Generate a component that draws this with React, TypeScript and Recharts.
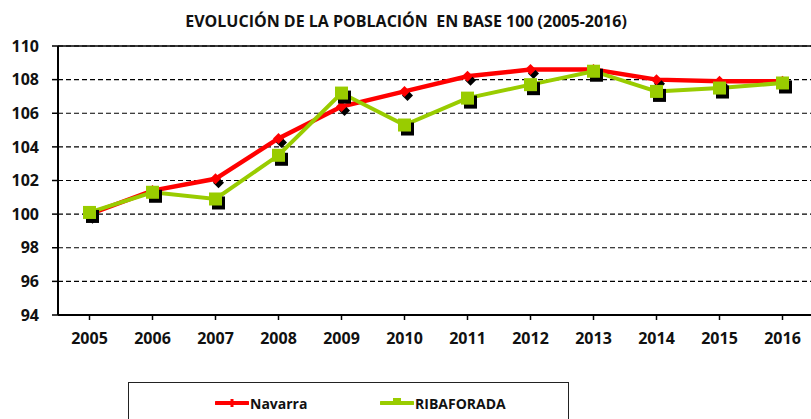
import { LineChart, Line, XAxis, YAxis, CartesianGrid, ReferenceLine, Legend } from 'recharts'

const years = ['2005', '2006', '2007', '2008', '2009', '2010', '2011', '2012', '2013', '2014', '2015', '2016']
const navarra = [100.0, 101.4, 102.1, 104.5, 106.4, 107.3, 108.2, 108.6, 108.6, 108.0, 107.9, 107.9]
const ribaforada = [100.1, 101.3, 100.9, 103.5, 107.2, 105.3, 106.9, 107.7, 108.5, 107.3, 107.5, 107.8]
const yTicks = [94, 96, 98, 100, 102, 104, 106, 108, 110]

const data = years.map((y, i) => ({ year: y, Navarra: navarra[i], RIBAFORADA: ribaforada[i] }))

const RED = '#ff0000'
const GREEN = '#99cc00'
const FONT = '"Open Sans", sans-serif'

// marcador rombo con sombra negra
const Diamond = (props: any) => {
  const { cx, cy } = props
  if (cx == null || cy == null) return null
  const d = (x: number, y: number, r: number) => `M${x},${y - r} L${x + r},${y} L${x},${y + r} L${x - r},${y} Z`
  return (
    <g>
      <path d={d(cx + 3, cy + 4, 5.5)} fill='#000' />
      <path d={d(cx, cy, 5.5)} fill={RED} />
    </g>
  )
}

// marcador cuadrado con sombra negra
const Square = (props: any) => {
  const { cx, cy } = props
  if (cx == null || cy == null) return null
  const s = 13
  return (
    <g>
      <rect x={cx - s / 2 + 3} y={cy - s / 2 + 4} width={s} height={s} fill='#000' />
      <rect x={cx - s / 2} y={cy - s / 2} width={s} height={s} fill={GREEN} />
    </g>
  )
}

const LegendBox = (props: any) => {
  const items = props.payload || []
  const pos = [86, 251]
  return (
    <div style={{ position: 'relative', width: 441, height: 60, border: '1.5px solid #222', boxSizing: 'border-box', background: '#fff' }}>
      {items.map((it: any, i: number) => (
        <div key={it.value} style={{ position: 'absolute', left: pos[i], top: 8, display: 'flex', alignItems: 'center', height: 24 }}>
          <svg width={34} height={14}>
            <line x1={1} y1={7} x2={33} y2={7} stroke={it.color} strokeWidth={4} strokeLinecap='round' />
            {i === 0
              ? <rect x={15.5} y={3} width={3} height={8} fill={it.color} />
              : <rect x={13} y={2} width={8} height={6} fill={it.color} />}
          </svg>
          <span style={{ fontFamily: FONT, fontWeight: 700, fontSize: 14, color: '#111', marginLeft: 1 }}>{it.value}</span>
        </div>
      ))}
    </div>
  )
}

const App = () => (
  <div style={{ position: 'absolute', left: 0, top: 0, width: 811, height: 419, overflow: 'hidden', background: '#fff' }}>
    <div style={{ position: 'absolute', left: 0, top: 10, width: 812, textAlign: 'center', fontFamily: FONT, fontWeight: 700, fontSize: 16, color: '#111' }}>
      EVOLUCIÓN DE LA POBLACIÓN&nbsp; EN BASE 100 (2005-2016)
    </div>
    <LineChart width={814} height={419} data={data} margin={{ top: 46, right: 0, left: 0, bottom: 64 }}>
      <CartesianGrid vertical={false} stroke='#000' strokeDasharray='5 3' strokeWidth={1.2} />
      <ReferenceLine y={110} stroke='#000' strokeWidth={1.5} />
      <XAxis
        dataKey='year'
        height={40}
        padding={{ left: 31.5, right: 31.5 }}
        axisLine={{ stroke: '#000', strokeWidth: 2 }}
        tickLine={{ stroke: '#000', strokeWidth: 1.5 }}
        tickSize={5}
        tickMargin={13}
        tick={{ fontFamily: FONT, fontWeight: 700, fontSize: 16, fill: '#111' }}
      />
      <YAxis
        domain={[94, 110]}
        ticks={yTicks}
        width={58}
        axisLine={{ stroke: '#000', strokeWidth: 2 }}
        tickLine={{ stroke: '#000', strokeWidth: 1.5 }}
        tickSize={6}
        tickMargin={13}
        tick={{ fontFamily: FONT, fontWeight: 700, fontSize: 16, fill: '#111' }}
      />
      <Legend
        layout='horizontal'
        verticalAlign='middle'
        align='center'
        content={<LegendBox />}
        wrapperStyle={{ left: 128, top: 382, width: 441, height: 60 }}
      />
      <Line dataKey='Navarra' stroke={RED} strokeWidth={4.5} dot={<Diamond />} activeDot={false} isAnimationActive={false} />
      <Line dataKey='RIBAFORADA' stroke={GREEN} strokeWidth={4} dot={<Square />} activeDot={false} isAnimationActive={false} />
    </LineChart>
  </div>
)

export default App
